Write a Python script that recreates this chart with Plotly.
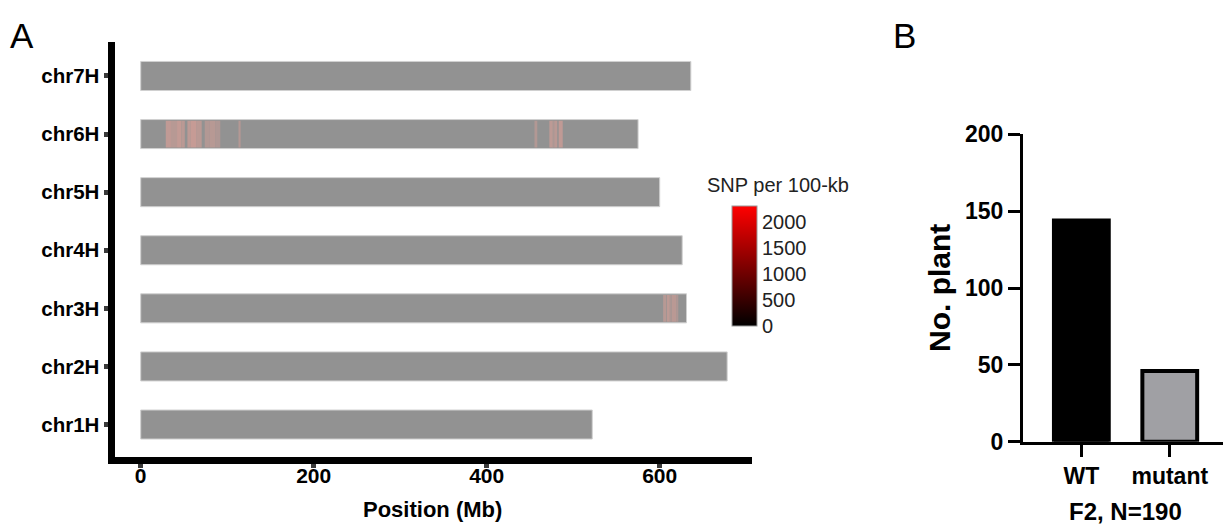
import plotly.graph_objects as go

# ---------------- data ----------------
chroms = ["chr1H", "chr2H", "chr3H", "chr4H", "chr5H", "chr6H", "chr7H"]
chrom_len_mb = [522, 678, 631, 626, 600, 575, 636]

# SNP-dense windows: chromosome, start (Mb), end (Mb), SNP per 100-kb
stripe_chrom = ["chr6H"] * 16 + ["chr3H"] * 5
stripe_start = [29, 35, 42, 47, 54, 58, 64, 74, 80, 86, 113.5,
                456.2, 472.4, 477, 479.3, 483.2,
                604, 608, 612, 614, 619]
stripe_end = [35, 42, 47, 51, 58, 64, 70.5, 80, 86, 92, 115.5,
              458.5, 477, 479.3, 481.6, 487.9,
              607.3, 612, 614, 619, 621.5]
stripe_snp = [1600, 1300, 1700, 1400, 1500, 1800, 1400, 1100, 1300, 1000, 1200,
              1100, 1500, 900, 1400, 1600,
              1300, 1500, 900, 1400, 1000]

x_ticks_mb = [0, 200, 400, 600]
cbar_ticks = [0, 500, 1000, 1500, 2000]
cbar_max = 2300

groups = ["WT", "mutant"]
plant_counts = [144, 46]
y_ticks_b = [0, 50, 100, 150, 200]

# ---------------- styling helpers ----------------
FONT = "Liberation Sans, Arial, sans-serif"
GRAY = (146, 146, 146)
PINK = (212, 158, 150)
W, H = 1231, 524
OFF = 8  # page body margin


def xp(x):
    return (x - OFF) / W


def yp(y):
    return 1 - (y - OFF) / H


def stripe_color(v):
    t = min(max(v / cbar_max, 0), 1)
    c = [round(g + t * (p - g)) for g, p in zip(GRAY, PINK)]
    return "rgb(%d,%d,%d)" % tuple(c)


fig = go.Figure()

# chromosome bars
fig.add_trace(go.Bar(
    y=chroms, x=chrom_len_mb, base=[0] * len(chroms), orientation="h",
    width=0.5, marker=dict(color="rgb(146,146,146)", line=dict(color="#d0d0d0", width=1)),
    xaxis="x", yaxis="y", hoverinfo="skip", showlegend=False))

# SNP dense stripes
fig.add_trace(go.Bar(
    y=stripe_chrom, x=[e - s for s, e in zip(stripe_start, stripe_end)], base=stripe_start,
    orientation="h", width=0.46,
    marker=dict(color=[stripe_color(v) for v in stripe_snp], line=dict(width=0)),
    xaxis="x", yaxis="y", hoverinfo="skip", showlegend=False))

# invisible trace carrying the colour bar
fig.add_trace(go.Scatter(
    x=[(s + e) / 2 for s, e in zip(stripe_start, stripe_end)], y=stripe_chrom,
    mode="markers", xaxis="x", yaxis="y", hoverinfo="skip", showlegend=False,
    marker=dict(size=1, opacity=0, color=stripe_snp, cmin=0, cmax=cbar_max,
                colorscale=[[0, "#000000"], [1, "#ff0000"]], showscale=True,
                colorbar=dict(x=xp(732), xanchor="left", y=yp(266), yanchor="middle",
                              len=120, lenmode="pixels", thickness=25, thicknessmode="pixels",
                              xpad=0, ypad=0, outlinewidth=1, outlinecolor="#9a9a9a",
                              tickvals=cbar_ticks, ticks="", ticklabelposition="outside",
                              tickfont=dict(family=FONT, size=20, color="#222")))))

# panel B bars
fig.add_trace(go.Bar(
    x=groups, y=plant_counts, width=0.62, xaxis="x2", yaxis="y2",
    marker=dict(color=["#000000", "rgb(160,160,164)"], line=dict(color="#000000", width=4)),
    hoverinfo="skip", showlegend=False))

fig.update_layout(
    width=W, height=H, margin=dict(l=0, r=0, t=0, b=0, autoexpand=False),
    paper_bgcolor="white", plot_bgcolor="white", barmode="overlay",
    font=dict(family=FONT, color="#000"),
    xaxis=dict(domain=[xp(114.5), xp(752)], range=[-30.3, 706.7], anchor="y",
               showline=True, linewidth=7, linecolor="#000", showgrid=False, zeroline=False,
               ticks="outside", ticklen=4, tickwidth=5, tickcolor="#3a3a3a",
               tickvals=x_ticks_mb, ticklabelstandoff=-10,
               tickfont=dict(family=FONT, size=21, weight="bold", color="#000")),
    yaxis=dict(domain=[yp(456.7), yp(42)], type="category",
               categoryorder="array", categoryarray=chroms, range=[-0.554, 6.585],
               anchor="x", showline=True, linewidth=7, linecolor="#000",
               showgrid=False, zeroline=False,
               ticks="outside", ticklen=4, tickwidth=5, tickcolor="#3a3a3a",
               tickfont=dict(family=FONT, size=20.5, weight="bold", color="#000")),
    xaxis2=dict(domain=[xp(1023), xp(1229)], range=[-0.66, 1.67], anchor="y2",
                type="category", showline=True, linewidth=3, linecolor="#000",
                showgrid=False, zeroline=False, ticks="outside", ticklen=12, tickwidth=3,
                tickcolor="#000",
                tickfont=dict(family=FONT, size=23, weight="bold", color="#000")),
    yaxis2=dict(domain=[yp(441.8), yp(134.3)], range=[0, 200], anchor="x2",
                showline=True, linewidth=3, linecolor="#000", showgrid=False, zeroline=False,
                ticks="outside", ticklen=12, tickwidth=3, tickcolor="#000",
                tickvals=y_ticks_b,
                tickfont=dict(family=FONT, size=23, weight="bold", color="#000")),
    annotations=[
        dict(text="A", x=xp(8), y=yp(36), xref="paper", yref="paper",
             xanchor="left", yanchor="middle", showarrow=False,
             font=dict(family=FONT, size=35, color="#000")),
        dict(text="B", x=xp(891), y=yp(36), xref="paper", yref="paper",
             xanchor="left", yanchor="middle", showarrow=False,
             font=dict(family=FONT, size=35, color="#000")),
        dict(text="SNP per 100-kb", x=xp(705), y=yp(185), xref="paper", yref="paper",
             xanchor="left", yanchor="middle", showarrow=False,
             font=dict(family=FONT, size=20, color="#222")),
        dict(text="Position (Mb)", x=xp(432), y=yp(509), xref="paper", yref="paper",
             xanchor="center", yanchor="middle", showarrow=False,
             font=dict(family=FONT, size=22, weight="bold", color="#000")),
        dict(text="No. plant", x=xp(939), y=yp(288), xref="paper", yref="paper",
             xanchor="center", yanchor="middle", showarrow=False, textangle=-90,
             font=dict(family=FONT, size=30, weight="bold", color="#000")),
        dict(text="F2, N=190", x=xp(1125), y=yp(511), xref="paper", yref="paper",
             xanchor="center", yanchor="middle", showarrow=False,
             font=dict(family=FONT, size=24, weight="bold", color="#000")),
    ],
)

fig.write_html("out.html")
